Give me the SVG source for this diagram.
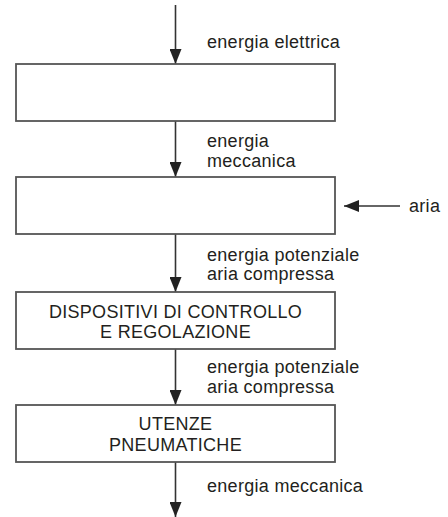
<svg xmlns="http://www.w3.org/2000/svg" width="448" height="517" viewBox="0 0 448 517">
<style>
.box{fill:#fff;stroke:#555;stroke-width:1.8}
.ln{stroke:#333;stroke-width:1.6;fill:none}
text{font-family:"Liberation Sans",Arial,Helvetica,sans-serif;font-size:18px;fill:#231f20;letter-spacing:0.3px}
.c{text-anchor:middle}
</style>
<defs>
<marker id="ah" viewBox="0 0 15 12" refX="15" refY="6" markerWidth="15" markerHeight="12" markerUnits="userSpaceOnUse" orient="auto">
<path d="M0,0 L15,6 L0,12 z" fill="#222"/>
</marker>
</defs>
<rect width="448" height="517" fill="#fff"/>
<g id="connectors">
<line class="ln" x1="175.5" y1="5" x2="175.5" y2="64" marker-end="url(#ah)"/>
<line class="ln" x1="175.5" y1="121" x2="175.5" y2="177" marker-end="url(#ah)"/>
<line class="ln" x1="400" y1="206" x2="344" y2="206" marker-end="url(#ah)"/>
<line class="ln" x1="175.5" y1="234" x2="175.5" y2="292" marker-end="url(#ah)"/>
<line class="ln" x1="175.5" y1="349" x2="175.5" y2="405" marker-end="url(#ah)"/>
<line class="ln" x1="175.5" y1="462" x2="175.5" y2="517" marker-end="url(#ah)"/>
<text x="207" y="48.3">energia elettrica</text>
<text x="207" y="146.7">energia</text>
<text x="207" y="166.7">meccanica</text>
<text x="409" y="211.5">aria</text>
<text x="207" y="260.5">energia potenziale</text>
<text x="207" y="279.5">aria compressa</text>
<text x="207" y="373.3">energia potenziale</text>
<text x="207" y="392.8">aria compressa</text>
<text x="207" y="491.7">energia meccanica</text>
</g>
<g id="node1"><rect class="box" x="16" y="64" width="319" height="57"/></g>
<g id="node2"><rect class="box" x="16" y="177" width="319" height="57"/></g>
<g id="node3"><rect class="box" x="16" y="292" width="319" height="57"/>
<text class="c" x="175.5" y="317.5">DISPOSITIVI DI CONTROLLO</text>
<text class="c" x="175.5" y="338">E REGOLAZIONE</text></g>
<g id="node4"><rect class="box" x="16" y="405" width="319" height="57"/>
<text class="c" x="175.5" y="429.5">UTENZE</text>
<text class="c" x="175.5" y="451">PNEUMATICHE</text></g>
</svg>
